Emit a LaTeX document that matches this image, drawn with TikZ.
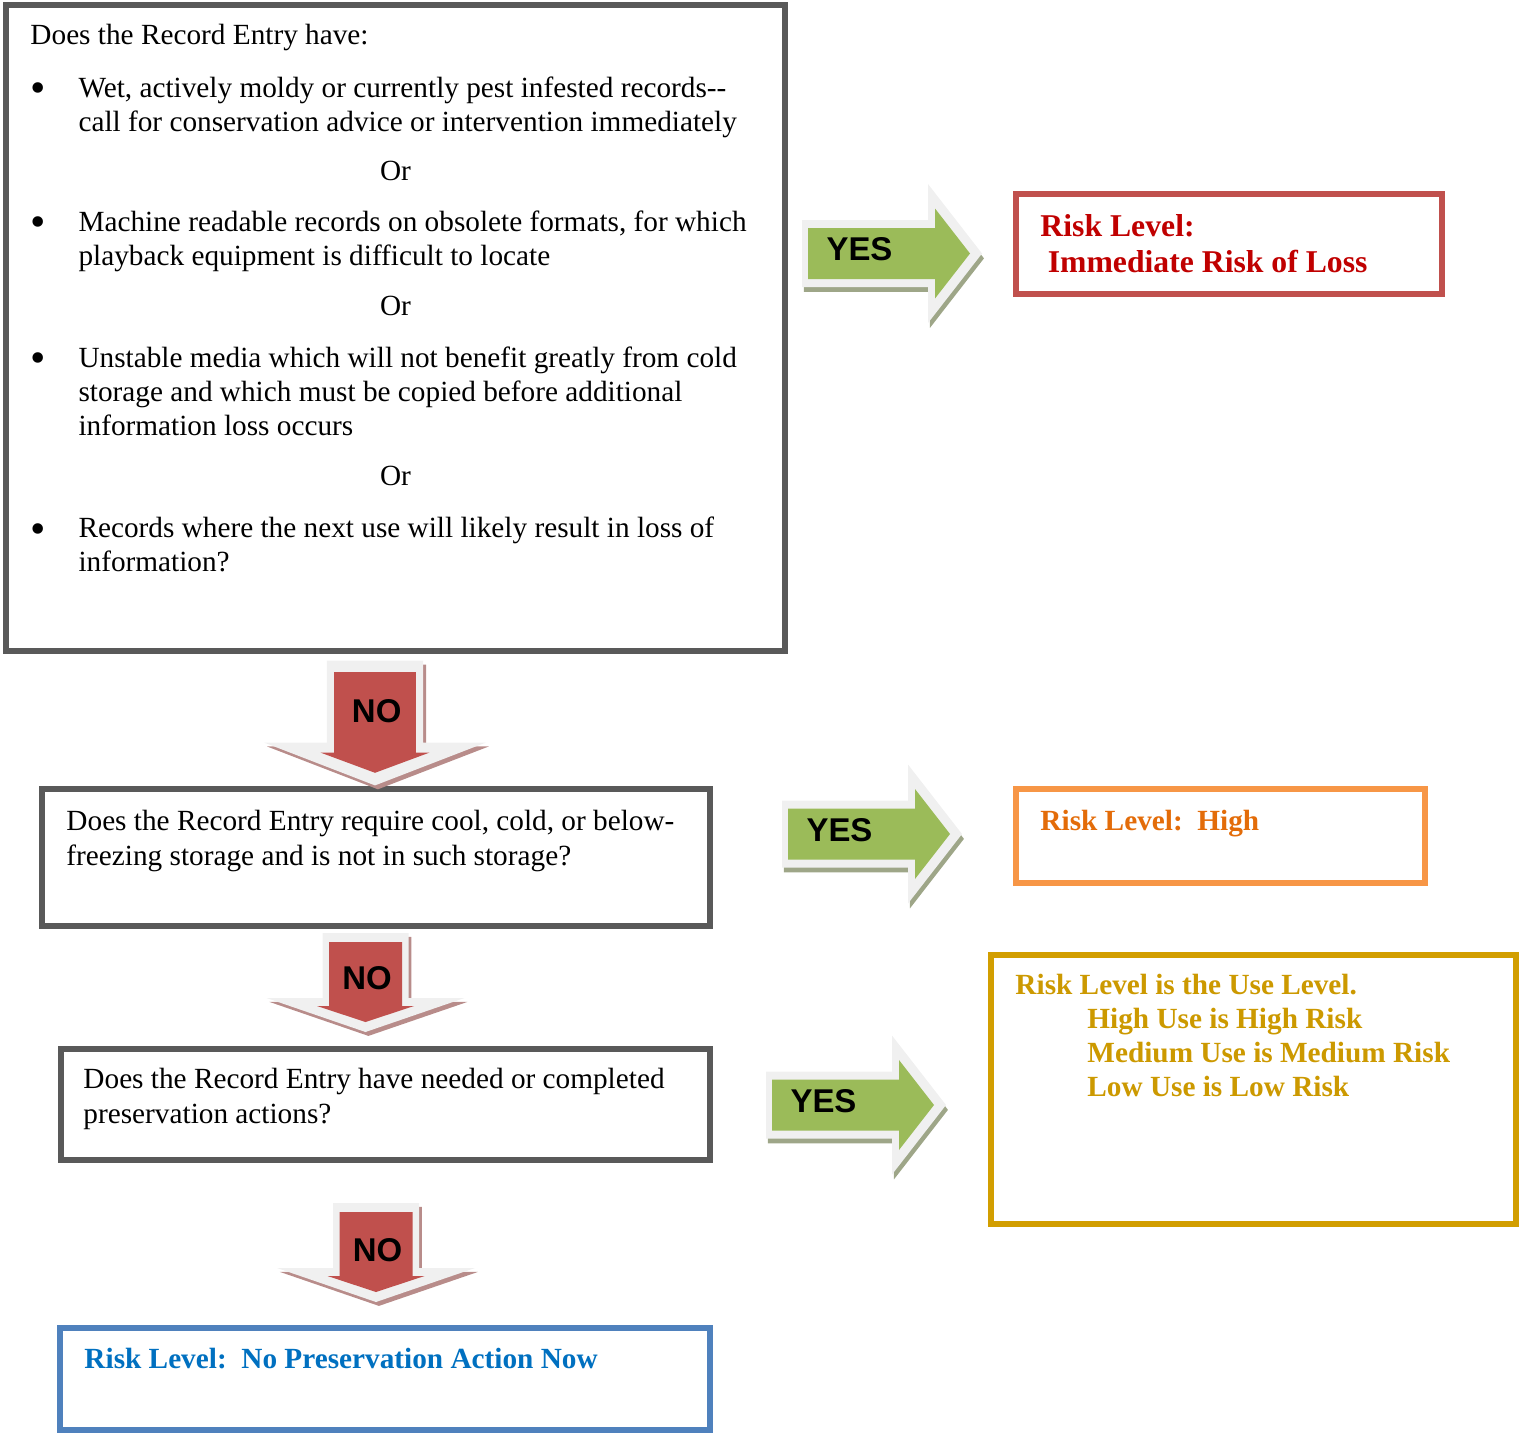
\documentclass[tikz,border=0pt]{standalone}
\usepackage{fontspec}
\setmainfont{Liberation Serif}
\newfontfamily\answerfont{Liberation Sans}
\usetikzlibrary{shadows}

\definecolor{qgray}{RGB}{89,89,89}
\definecolor{immline}{RGB}{192,80,77}
\definecolor{immtext}{RGB}{192,0,0}
\definecolor{highline}{RGB}{247,150,70}
\definecolor{hightext}{RGB}{227,108,9}
\definecolor{useline}{RGB}{210,158,0}
\definecolor{usetext}{RGB}{204,153,0}
\definecolor{noneline}{RGB}{79,129,189}
\definecolor{nonetext}{RGB}{0,112,192}
\definecolor{yesgreen}{RGB}{155,187,89}
\definecolor{nored}{RGB}{192,80,77}
\definecolor{bevelgray}{RGB}{240,240,240}
\definecolor{yesshade}{RGB}{158,166,136}
\definecolor{noshade}{RGB}{184,140,138}

\newcommand\bigbul{\raisebox{-2.3pt}{\fontsize{18}{18}\selectfont\textbullet}}

\tikzset{
	qbox/.style={draw=qgray, line width=2.5pt, anchor=north west, inner sep=0pt, outer sep=0pt},
	riskbox/.style={line width=2.3pt, anchor=north west, inner sep=0pt, outer sep=0pt},
	qtext/.style={anchor=base west, inner sep=0pt, font=\fontsize{12}{13.94}\selectfont},
	risktext/.style={anchor=base west, inner sep=0pt, font=\fontsize{12}{13.94}\selectfont\bfseries},
	answer/.style={inner sep=0pt, font=\answerfont\bfseries\fontsize{13.5}{15}\selectfont},
	yes arrow/.pic={
		\fill[bevelgray, drop shadow={shadow xshift=0.8pt, shadow yshift=-2pt, fill=yesshade, opacity=1}]
			(-6,-33.5) -- (120,-33.5) -- (120,-69.5) -- (174,0) -- (120,69.5) -- (120,33.5) -- (-6,33.5) -- cycle;
		\fill[yesgreen] (0,-25.5) -- (127,-25.5) -- (127,-45) -- (162,0) -- (127,45) -- (127,25.5) -- (0,25.5) -- cycle;
		\node[answer] (-label) at (51.5,-4) {YES};
	},
	no arrow/.pic={
		\fill[bevelgray, drop shadow={shadow xshift=1.2pt, shadow yshift=-1.6pt, fill=noshade, opacity=1}]
			(-43,-9) -- (43,-9) -- (43,56) -- (99,56) -- (0,90) -- (-99,56) -- (-43,56) -- cycle;
		\fill[nored] (-36.5,0) -- (36.5,0) -- (36.5,64) -- (48.5,64) -- (0,80) -- (-48.5,64) -- (-36.5,64) -- cycle;
		\node[answer] (-label) at (1.5,#1) {NO};
	}
}

\begin{document}
\begin{tikzpicture}[x=0.41pt, y=-0.41pt]
	\useasboundingbox (0,0) rectangle (1519,1433);

	% questions
	\node[qbox, minimum width=319.4pt, minimum height=264.9pt] (q1) at (6,5) {};
	\node[qbox, minimum width=273.9pt, minimum height=56.2pt] (q2) at (42,789) {};
	\node[qbox, minimum width=266.1pt, minimum height=45.5pt] (q3) at (61,1049) {};

	\node[qtext] (q1text) at (30,45) {\begin{tabular}[t]{@{}p{19.7pt}@{}p{279.6pt}@{}}
		\multicolumn{2}{@{}l@{}}{Does the Record Entry have:}\\[7.4pt]
		\bigbul & Wet, actively moldy or currently pest infested records-{}-\\
		& call for conservation advice or intervention immediately\\[6.2pt]
		\multicolumn{2}{c}{Or}\\[7pt]
		\bigbul & Machine readable records on obsolete formats, for which\\
		& playback equipment is difficult to locate\\[6.6pt]
		\multicolumn{2}{c}{Or}\\[7.4pt]
		\bigbul & Unstable media which will not benefit greatly from cold\\
		& storage and which must be copied before additional\\
		& information loss occurs\\[6.6pt]
		\multicolumn{2}{c}{Or}\\[7.4pt]
		\bigbul & Records where the next use will likely result in loss of\\
		& information?
	\end{tabular}};
	\node[qtext, font=\fontsize{12}{14.35}\selectfont] (q2text) at (66,830) {\begin{tabular}[t]{@{}l@{}}
		Does the Record Entry require cool, cold, or below-\\
		freezing storage and is not in such storage?
	\end{tabular}};
	\node[qtext, font=\fontsize{12}{14.35}\selectfont] (q3text) at (83,1088) {\begin{tabular}[t]{@{}l@{}}
		Does the Record Entry have needed or completed\\
		preservation actions?
	\end{tabular}};

	% risk levels
	\node[riskbox, draw=immline, minimum width=174.7pt, minimum height=41pt] (r1) at (1016,194) {};
	\node[riskbox, draw=highline, minimum width=167.7pt, minimum height=38.5pt] (r2) at (1016,789) {};
	\node[riskbox, draw=useline, line width=2.5pt, minimum width=215.3pt, minimum height=110.3pt] (r3) at (991,955) {};
	\node[riskbox, draw=noneline, minimum width=266.5pt, minimum height=41.8pt] (r4) at (60,1328) {};

	\node[risktext, text=immtext, font=\fontsize{13}{14.76}\selectfont\bfseries] (r1text) at (1040,236) {\begin{tabular}[t]{@{}l@{}}
		Risk Level:\\
		\hspace*{3pt}Immediate Risk of Loss
	\end{tabular}};
	\node[risktext, text=hightext] (r2text) at (1040,830) {Risk Level:\ \ High};
	\node[risktext, text=usetext] (r3text) at (1015,994) {\begin{tabular}[t]{@{}l@{}}
		Risk Level is the Use Level.\\
		\hspace*{29.5pt}High Use is High Risk\\
		\hspace*{29.5pt}Medium Use is Medium Risk\\
		\hspace*{29.5pt}Low Use is Low Risk
	\end{tabular}};
	\node[risktext, text=nonetext] (r4text) at (84,1368) {Risk Level:\ \ No Preservation Action Now};

	% answers
	\pic (yes1) at (808,253.5) {yes arrow};
	\pic (yes2) at (788,834) {yes arrow};
	\pic (yes3) at (772,1105) {yes arrow};
	\pic[xscale=1.12, yscale=1.26] (no1) at (375,672) {no arrow=31};
	\pic (no2) at (365.5,942) {no arrow=36};
	\pic (no3) at (376,1212) {no arrow=38};
\end{tikzpicture}
\end{document}
